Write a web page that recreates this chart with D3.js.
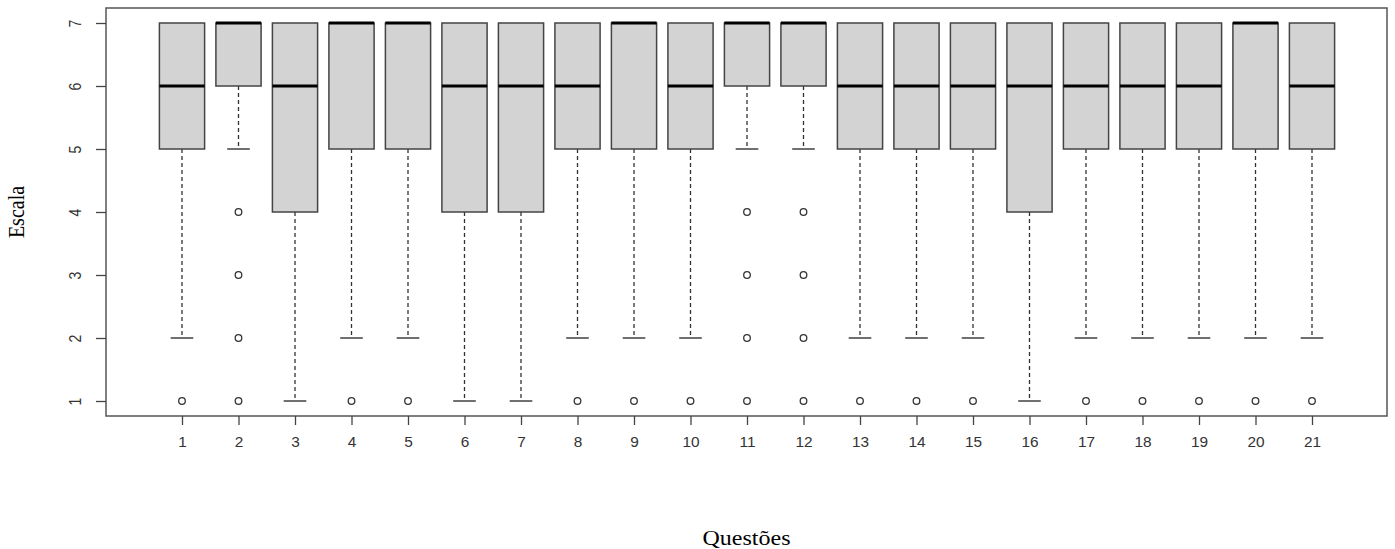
<!DOCTYPE html>
<html>
<head>
<meta charset="utf-8">
<script src="https://cdn.jsdelivr.net/npm/d3@7"></script>
<style>
  body { margin: 0; background: #fff; }
  svg { display: block; }
</style>
</head>
<body>
<div id="chart"></div>
<script>
// Datos de cada questão (boxplot)
const questoes = d3.range(1, 22);
const q1      = [5, 6, 4, 5, 5, 4, 4, 5, 5, 5, 6, 6, 5, 5, 5, 4, 5, 5, 5, 5, 5];
const mediana = [6, 7, 6, 7, 7, 6, 6, 6, 7, 6, 7, 7, 6, 6, 6, 6, 6, 6, 6, 7, 6];
const q3      = [7, 7, 7, 7, 7, 7, 7, 7, 7, 7, 7, 7, 7, 7, 7, 7, 7, 7, 7, 7, 7];
const bigodeInf = [2, 5, 1, 2, 2, 1, 1, 2, 2, 2, 5, 5, 2, 2, 2, 1, 2, 2, 2, 2, 2];
const bigodeSup = [7, 7, 7, 7, 7, 7, 7, 7, 7, 7, 7, 7, 7, 7, 7, 7, 7, 7, 7, 7, 7];
const outliers  = [[1], [4, 3, 2, 1], [], [1], [1], [], [], [1], [1], [1],
                   [4, 3, 2, 1], [4, 3, 2, 1], [1], [1], [1], [], [1], [1], [1], [1], [1]];
const yTicks = [1, 2, 3, 4, 5, 6, 7];

const W = 1395, H = 549;
const frame = {left: 106, right: 1387, top: 8, bottom: 416};

let svg = d3.select('#chart').append('svg')
    .attr('width', W).attr('height', H);

let x = d3.scaleLinear().domain([1, 21]).range([182, 1312]);
let y = d3.scaleLinear().domain([1, 7]).range([401, 23]);

const bw = (x(2) - x(1)) * 0.8;

let data = questoes.map((q, i) => ({
    q: q, q1: q1[i], med: mediana[i], q3: q3[i],
    lo: bigodeInf[i], hi: bigodeSup[i], out: outliers[i]
}));

let g = svg.append('g');

// bigodes
g.selectAll('.whisk-lo').data(data).enter().append('line')
    .attr('x1', d => x(d.q)).attr('x2', d => x(d.q))
    .attr('y1', d => y(d.q1)).attr('y2', d => y(d.lo))
    .attr('stroke', '#333').attr('stroke-width', 1.3).attr('stroke-dasharray', '4,3');
g.selectAll('.whisk-hi').data(data.filter(d => d.hi > d.q3)).enter().append('line')
    .attr('x1', d => x(d.q)).attr('x2', d => x(d.q))
    .attr('y1', d => y(d.q3)).attr('y2', d => y(d.hi))
    .attr('stroke', '#333').attr('stroke-width', 1.3).attr('stroke-dasharray', '4,3');
g.selectAll('.cap').data(data).enter().append('line')
    .attr('x1', d => x(d.q) - bw / 4).attr('x2', d => x(d.q) + bw / 4)
    .attr('y1', d => y(d.lo)).attr('y2', d => y(d.lo))
    .attr('stroke', '#333').attr('stroke-width', 1.4);

// caixas
g.selectAll('.box').data(data).enter().append('rect')
    .attr('x', d => x(d.q) - bw / 2).attr('width', bw)
    .attr('y', d => y(d.q3)).attr('height', d => y(d.q1) - y(d.q3))
    .attr('fill', '#d3d3d3').attr('stroke', '#444').attr('stroke-width', 1.5);

// medianas
g.selectAll('.med').data(data).enter().append('line')
    .attr('x1', d => x(d.q) - bw / 2).attr('x2', d => x(d.q) + bw / 2)
    .attr('y1', d => y(d.med)).attr('y2', d => y(d.med))
    .attr('stroke', '#000').attr('stroke-width', 3.2);

// outliers
let pts = [];
data.forEach(d => d.out.forEach(v => pts.push({q: d.q, v: v})));
g.selectAll('.out').data(pts).enter().append('circle')
    .attr('cx', d => x(d.q)).attr('cy', d => y(d.v)).attr('r', 3.3)
    .attr('fill', 'none').attr('stroke', '#333').attr('stroke-width', 1.3);

// moldura
svg.append('rect')
    .attr('x', frame.left).attr('y', frame.top)
    .attr('width', frame.right - frame.left).attr('height', frame.bottom - frame.top)
    .attr('fill', 'none').attr('stroke', '#555').attr('stroke-width', 1.5);

// eixo x
let xAxis = svg.append('g')
    .attr('transform', 'translate(0,' + frame.bottom + ')')
    .call(d3.axisBottom(x).tickValues(questoes).tickSize(9).tickPadding(12).tickFormat(d3.format('d')));
xAxis.select('.domain').remove();
xAxis.selectAll('line').attr('stroke', '#444').attr('stroke-width', 1.3);
xAxis.selectAll('text')
    .attr('font-family', 'Liberation Sans, Arial, sans-serif')
    .attr('font-size', 14).attr('fill', '#333')
    .attr('transform', 'scale(1.1,1)')
    .attr('x', function(d) { return 0; });

// eixo y
let yAxis = svg.append('g')
    .attr('transform', 'translate(' + frame.left + ',0)')
    .call(d3.axisLeft(y).tickValues(yTicks).tickSize(10).tickFormat(d3.format('d')));
yAxis.select('.domain').remove();
yAxis.selectAll('line').attr('stroke', '#444').attr('stroke-width', 1.3);
yAxis.selectAll('text')
    .attr('font-family', 'Liberation Sans, Arial, sans-serif')
    .attr('font-size', 14).attr('fill', '#333')
    .attr('x', 0).attr('dy', 0)
    .attr('text-anchor', 'middle')
    .attr('transform', 'translate(-25,0) scale(1.2,1) rotate(-90)');

// títulos
svg.append('text')
    .attr('transform', 'translate(24,' + ((frame.top + frame.bottom) / 2) + ') scale(1.2,1) rotate(-90)')
    .attr('text-anchor', 'middle')
    .attr('font-family', 'Liberation Serif, Times New Roman, serif')
    .attr('font-size', 20).attr('fill', '#000')
    .text('Escala');

svg.append('text')
    .attr('transform', 'translate(' + ((frame.left + frame.right) / 2) + ',545) scale(1.2,1)')
    .attr('text-anchor', 'middle')
    .attr('font-family', 'Liberation Serif, Times New Roman, serif')
    .attr('font-size', 20).attr('fill', '#000')
    .text('Questões');
</script>
</body>
</html>
